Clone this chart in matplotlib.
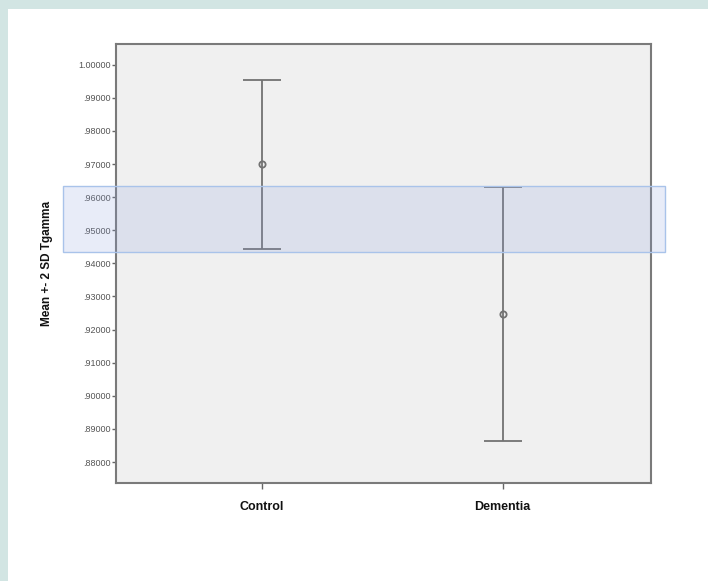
import matplotlib.pyplot as plt
from matplotlib.patches import Rectangle

# Group means with +- 2 SD limits
groups = ['Control', 'Dementia']
means = [0.9700, 0.9248]
upper = [0.9954, 0.9632]
lower = [0.9443, 0.8864]
yticks = [0.88, 0.89, 0.90, 0.91, 0.92, 0.93, 0.94, 0.95, 0.96, 0.97, 0.98, 0.99, 1.00]

plt.rcParams['font.family'] = ['Liberation Sans', 'DejaVu Sans']

fig = plt.figure(figsize=(7.08, 5.81), dpi=100)
fig.patch.set_facecolor('white')

# teal strips along top and left edge of the slide
fig.patches.append(Rectangle((0, 1 - 9 / 581), 1, 9 / 581, transform=fig.transFigure,
                             facecolor='#d2e5e3', edgecolor='none', zorder=0))
fig.patches.append(Rectangle((0, 0), 8 / 708, 1, transform=fig.transFigure,
                             facecolor='#d2e5e3', edgecolor='none', zorder=0))

ax = fig.add_axes([116 / 708, 1 - 483 / 581, 535 / 708, 439 / 581])
ax.set_facecolor('#f0f0f0')

x = list(range(len(groups)))
err_lo = [m - l for m, l in zip(means, lower)]
err_hi = [u - m for m, u in zip(means, upper)]
ax.errorbar(x, means, yerr=[err_lo, err_hi], fmt='o', color='#727272', ecolor='#727272',
            elinewidth=1.3, capsize=13.5, capthick=1.3, markersize=4.5,
            markerfacecolor='none', markeredgewidth=1.3)

ax.set_xlim(-0.607, 1.616)
ax.set_ylim(0.87366, 1.00625)
ax.set_xticks(x)
ax.set_xticklabels(groups, fontsize=9, fontweight='bold', color='#111111')
ax.set_yticks(yticks)
ax.set_yticklabels(['1.00000' if v >= 1 else ('%.5f' % v)[1:] for v in yticks],
                   fontsize=6.5, color='#555555')
ax.tick_params(axis='y', length=3, width=1, color='#666666', pad=1)
ax.tick_params(axis='x', length=4, width=1, color='#666666', pad=9)
for s in ax.spines.values():
    s.set_color('#7a7a7a')
    s.set_linewidth(1.5)

ax.set_ylabel('Mean +- 2 SD Tgamma', fontsize=8.5, fontweight='bold', color='#111111', labelpad=18)

# highlight band drawn over the chart
fig.patches.append(Rectangle((63 / 708, 1 - 252 / 581), 602 / 708, 66 / 581,
                             transform=fig.transFigure, facecolor=(140 / 255, 160 / 255, 220 / 255, 0.2),
                             edgecolor='#a9c3ea', linewidth=1, zorder=5))

fig.savefig('out.png', dpi=100)
